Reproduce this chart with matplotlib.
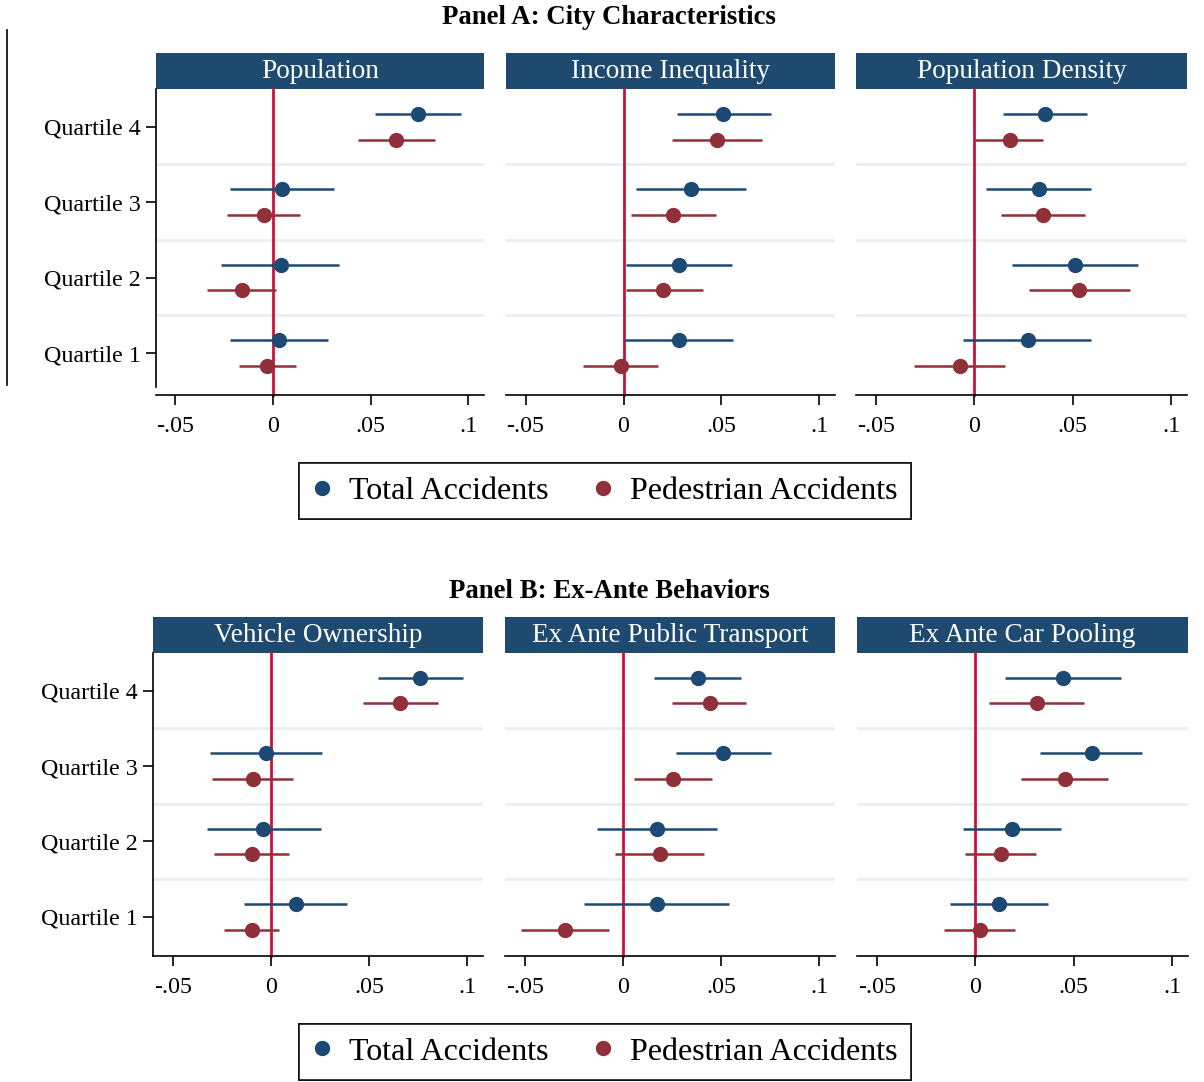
import numpy as np
import matplotlib.pyplot as plt
from matplotlib.lines import Line2D

plt.rcParams['font.family'] = ['Liberation Serif', 'DejaVu Serif']

W, H = 1204, 1082

quartiles = [1, 2, 3, 4]
quartile_labels = ['Quartile 1', 'Quartile 2', 'Quartile 3', 'Quartile 4']
xticks = [-0.05, 0, 0.05, 0.1]
xtick_labels = ['-.05', '0', '.05', '.1']
series_labels = ['Total Accidents', 'Pedestrian Accidents']

# rows = Quartile 1..4, columns = coefficient, lower CI, upper CI
# Panel A: City Characteristics
population_total = np.array([[0.0031, -0.0218, 0.0281],
                             [0.0039, -0.0264, 0.0338],
                             [0.0046, -0.0218, 0.0312],
                             [0.0742, 0.0524, 0.0964]])
population_ped = np.array([[-0.0029, -0.0176, 0.0120],
                           [-0.0159, -0.0338, 0.0017],
                           [-0.0048, -0.0235, 0.0138],
                           [0.0631, 0.0435, 0.0827]])
inequality_total = np.array([[0.0282, 0.0003, 0.0560],
                             [0.0285, 0.0012, 0.0555],
                             [0.0345, 0.0063, 0.0623],
                             [0.0509, 0.0271, 0.0751]])
inequality_ped = np.array([[-0.0012, -0.0205, 0.0176],
                           [0.0203, 0.0012, 0.0406],
                           [0.0253, 0.0039, 0.0473],
                           [0.0476, 0.0246, 0.0708]])
density_total = np.array([[0.0274, -0.0055, 0.0594],
                          [0.0510, 0.0192, 0.0829],
                          [0.0330, 0.0060, 0.0594],
                          [0.0360, 0.0146, 0.0574]])
density_ped = np.array([[-0.0074, -0.0308, 0.0156],
                        [0.0533, 0.0277, 0.0791],
                        [0.0348, 0.0137, 0.0562],
                        [0.0180, 0.0005, 0.0351]])

# Panel B: Ex-Ante Behaviors
vehicle_total = np.array([[0.0127, -0.0139, 0.0388],
                          [-0.0039, -0.0325, 0.0253],
                          [-0.0027, -0.0308, 0.0258],
                          [0.0761, 0.0546, 0.0978]])
vehicle_ped = np.array([[-0.0098, -0.0237, 0.0039],
                        [-0.0098, -0.0288, 0.0092],
                        [-0.0093, -0.0300, 0.0112],
                        [0.0659, 0.0469, 0.0853]])
transport_total = np.array([[0.0172, -0.0198, 0.0541],
                            [0.0172, -0.0131, 0.0478],
                            [0.0509, 0.0268, 0.0753],
                            [0.0380, 0.0160, 0.0601]])
transport_ped = np.array([[-0.0294, -0.0520, -0.0072],
                          [0.0189, -0.0038, 0.0415],
                          [0.0256, 0.0058, 0.0456],
                          [0.0444, 0.0251, 0.0628]])
pooling_total = np.array([[0.0120, -0.0130, 0.0368],
                          [0.0188, -0.0063, 0.0436],
                          [0.0592, 0.0329, 0.0847],
                          [0.0446, 0.0151, 0.0741]])
pooling_ped = np.array([[0.0025, -0.0159, 0.0202],
                        [0.0129, -0.0054, 0.0308],
                        [0.0458, 0.0232, 0.0673],
                        [0.0314, 0.0068, 0.0554]])

blue = '#1c4a74'
red = '#903039'
header_blue = '#1f4a70'
zero_red = '#c8143c'


def draw_panel(fig, left, right, head_top, top, bottom, title, total, ped,
               first, gap, ylow):
    # header box
    hax = fig.add_axes([left / W, 1 - top / H, (right - left) / W, (top - head_top) / H])
    hax.set_facecolor(header_blue)
    hax.set_xticks([])
    hax.set_yticks([])
    for s in hax.spines.values():
        s.set_visible(False)
    hax.text(0.5, 0.48, title, color='white', fontsize=19.6, ha='center', va='center',
             transform=hax.transAxes)

    ax = fig.add_axes([left / W, 1 - bottom / H, (right - left) / W, (bottom - top) / H])
    for yy in [1.5, 2.5, 3.5]:
        ax.axhline(yy, color='#e8eff3', lw=2, zorder=0)
    ax.axvline(0, ymin=-gap / (bottom - top), ymax=1, color=zero_red, lw=2,
               clip_on=False, zorder=1)

    y = np.array(quartiles, dtype=float)
    for data, col, off in [(total, blue, 0.17), (ped, red, -0.17)]:
        b, lo, hi = data[:, 0], data[:, 1], data[:, 2]
        ax.errorbar(b, y + off, xerr=[b - lo, hi - b], fmt='o', color=col,
                    ms=10, elinewidth=1.8, capsize=0, zorder=3)

    ax.set_xlim(-0.06, 0.108)
    ax.set_ylim(ylow, 4.5)
    ax.set_xticks(xticks)
    ax.set_xticklabels(xtick_labels)
    ax.tick_params(axis='x', length=7, width=1.2, labelsize=17.3, pad=8)
    ax.spines['top'].set_visible(False)
    ax.spines['right'].set_visible(False)
    ax.spines['bottom'].set_position(('outward', gap * 0.72))
    ax.spines['bottom'].set_linewidth(1.2)
    if first:
        ax.set_yticks(quartiles)
        ax.set_yticklabels(quartile_labels)
        ax.tick_params(axis='y', length=7, width=1.2, labelsize=17.3, pad=4)
        ax.spines['left'].set_linewidth(1.2)
    else:
        ax.set_yticks([])
        ax.spines['left'].set_visible(False)
    return ax


fig = plt.figure(figsize=(W / 100, H / 100), dpi=100)

fig.text(609 / W, 1 - 17 / H, 'Panel A: City Characteristics', fontsize=19.3,
         fontweight='bold', ha='center', va='center')
fig.text(609 / W, 1 - 591 / H, 'Panel B: Ex-Ante Behaviors', fontsize=19.3,
         fontweight='bold', ha='center', va='center')

panel_a = [(155.7, 484, 'Population', population_total, population_ped),
           (506, 835, 'Income Inequality', inequality_total, inequality_ped),
           (856, 1187, 'Population Density', density_total, density_ped)]
for i, (l, r, t, tot, pd_) in enumerate(panel_a):
    draw_panel(fig, l, r, 53, 89, 387, t, tot, pd_, i == 0, 8, 0.55)

panel_b = [(153, 483, 'Vehicle Ownership', vehicle_total, vehicle_ped),
           (505, 835, 'Ex Ante Public Transport', transport_total, transport_ped),
           (857, 1188, 'Ex Ante Car Pooling', pooling_total, pooling_ped)]
for i, (l, r, t, tot, pd_) in enumerate(panel_b):
    draw_panel(fig, l, r, 617, 653, 956, t, tot, pd_, i == 0, 0, 0.48)

handles = [Line2D([], [], marker='o', ls='none', color=blue, ms=10),
           Line2D([], [], marker='o', ls='none', color=red, ms=10)]
for yc in [491, 1052]:
    leg = fig.legend(handles, series_labels, loc='center', ncol=2,
                     bbox_to_anchor=(605 / W, 1 - yc / H), fontsize=23,
                     frameon=True, fancybox=False, edgecolor='black',
                     handletextpad=0.55, columnspacing=1.4, borderpad=0.42,
                     handlelength=0.6)
    leg.get_frame().set_linewidth(1.3)
    fig.add_artist(leg)

# stray border line at the left edge of the page
fig.add_artist(Line2D([7 / W, 7 / W], [1 - 30 / H, 1 - 385 / H], color='black', lw=1.2))

fig.savefig('out.png', dpi=100)
